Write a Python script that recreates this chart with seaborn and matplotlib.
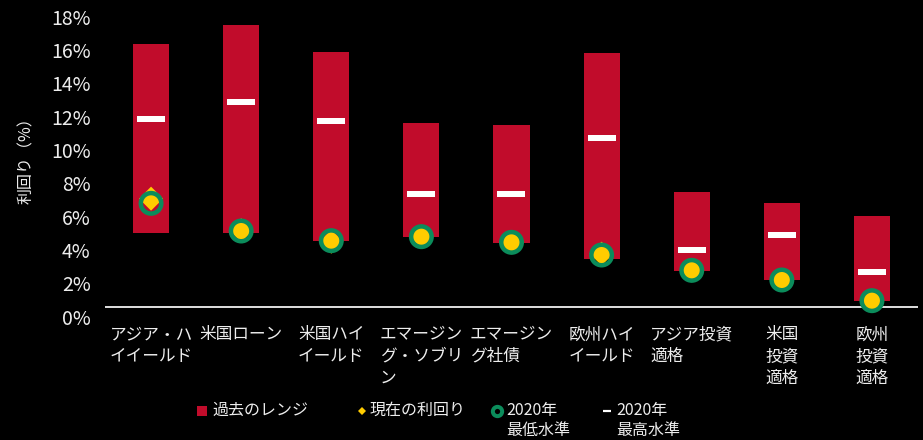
import numpy as np
import pandas as pd
import matplotlib
matplotlib.use("Agg")
import matplotlib.pyplot as plt
import matplotlib.transforms as mtransforms
from matplotlib.lines import Line2D
import seaborn as sns

# Bond segments (x-axis categories)
categories = [
    "アジア・ハ\nイイールド",
    "米国ローン",
    "米国ハイ\nイールド",
    "エマージン\nグ・ソブリ\nン",
    "エマージン\nグ社債",
    "欧州ハイ\nイールド",
    "アジア投資\n適格",
    "米国\n投資\n適格",
    "欧州\n投資\n適格",
]

# Historical yield range (%)
range_low = [4.46, 4.46, 3.98, 4.22, 3.86, 2.88, 2.18, 1.64, 0.38]
range_high = [15.78, 16.92, 15.30, 11.04, 10.92, 15.24, 6.90, 6.24, 5.46]

# Current yield, 2020 low and 2020 high (%)
current_yield = [6.50, 4.60, 3.92, 4.22, 3.88, 3.20, 2.20, 1.62, 0.38]
low_2020 = [6.22, 4.56, 3.98, 4.22, 3.88, 3.12, 2.20, 1.62, 0.38]
high_2020 = [11.28, 12.30, 11.16, 6.80, 6.80, 10.16, 3.44, 4.32, 2.10]

# Axis ticks and legend labels
ytick_values = [0, 2, 4, 6, 8, 10, 12, 14, 16, 18]
ytick_labels = [f"{v}%" for v in ytick_values]
ylabel = "利回り（%）"
legend_labels = ["過去のレンジ", "現在の利回り", "2020年\n最低水準", "2020年\n最高水準"]

RED = "#C10C2B"
GREEN = "#0B8C5B"
YELLOW = "#FFCC00"
WHITE = "#FFFFFF"
TEXT = "#EDEDED"
AXIS = "#D9D9D9"

W, H, DPI = 923, 440, 100

sns.set_theme(style="white", rc={
    "axes.facecolor": "black",
    "figure.facecolor": "black",
    "savefig.facecolor": "black",
})
plt.rcParams["font.family"] = ["Noto Sans CJK JP", "DejaVu Sans"]

df = pd.DataFrame({
    "category": categories,
    "low": range_low,
    "high": range_high,
    "current": current_yield,
    "low2020": low_2020,
    "high2020": high_2020,
})
df["span"] = df["high"] - df["low"]

fig = plt.figure(figsize=(W / DPI, H / DPI), dpi=DPI)
ax = fig.add_axes([106 / W, 1 - 307 / H, 811 / W, 300 / H])

def px(v):
    return v * 72 / DPI

# Historical range as floating bars
sns.barplot(data=df, x="category", y="span", bottom=df["low"], color=RED,
            saturation=1, width=0.4, linewidth=0, errorbar=None, ax=ax, zorder=2)

# 2020 high: short white dash
sns.scatterplot(data=df, x="category", y="high2020", marker="_", s=px(27) ** 2,
                color=WHITE, linewidth=px(6), ax=ax, zorder=3, legend=False)

# Current yield: yellow diamond
sns.scatterplot(data=df, x="category", y="current", marker="D", s=px(17) ** 2,
                color=YELLOW, edgecolor="none", linewidth=0, ax=ax, zorder=4,
                legend=False, clip_on=False)

# 2020 low: green ring
sns.scatterplot(data=df, x="category", y="low2020", marker="o", s=px(20.5) ** 2,
                facecolor="none", edgecolor=GREEN, linewidth=px(4.5), ax=ax,
                zorder=5, legend=False, clip_on=False)

ax.set_xlim(-0.5, len(categories) - 0.5)
ax.set_ylim(0, 18)
ax.set_xlabel("")
ax.set_ylabel("")

ax.set_yticks(ytick_values)
ax.set_yticklabels(ytick_labels, fontsize=14, color=TEXT)
ax.tick_params(axis="y", length=0, pad=11)
ax.tick_params(axis="x", length=0, pad=14, labelsize=12, labelcolor=TEXT)
for lab in ax.get_xticklabels():
    lab.set_multialignment("left")
    lab.set_linespacing(1.35)

# tick labels sit a little below their gridline positions
shift = mtransforms.ScaledTranslation(0, -9.7 / DPI, fig.dpi_scale_trans)
for lab in ax.get_yticklabels():
    lab.set_transform(lab.get_transform() + shift)

for side in ["top", "right", "left"]:
    ax.spines[side].set_visible(False)
ax.spines["bottom"].set_color(AXIS)
ax.spines["bottom"].set_linewidth(px(2))
ax.spines["bottom"].set_zorder(1)

fig.text(27 / W, 1 - 157 / H, ylabel, rotation=90, ha="center", va="center",
         fontsize=11.5, color=TEXT)

# Legend drawn item by item along the bottom
def fx(x):
    return x / W

def fy(y):
    return 1 - y / H

leg_y = 411.0
handles = [
    dict(x=202, marker="s", ms=px(10), mfc=RED, mec="none", mew=0),
    dict(x=362.3, marker="D", ms=px(5), mfc=YELLOW, mec="none", mew=0),
    dict(x=497.3, marker="o", ms=px(9.3), mfc="none", mec=GREEN, mew=px(4)),
    dict(x=606.7, marker="_", ms=px(8), mfc=WHITE, mec=WHITE, mew=px(2.2)),
]
text_x = [212.3, 370, 506.7, 616]
for h, tx, label in zip(handles, text_x, legend_labels):
    fig.add_artist(Line2D([fx(h["x"])], [fy(leg_y)], marker=h["marker"],
                          markersize=h["ms"], markerfacecolor=h["mfc"],
                          markeredgecolor=h["mec"], markeredgewidth=h["mew"],
                          linestyle="none", transform=fig.transFigure))
    fig.text(fx(tx), fy(leg_y - 9), label, ha="left", va="top", fontsize=11.5,
             color=TEXT, linespacing=1.22, multialignment="left")

fig.savefig("out.png", dpi=DPI, facecolor="black")
